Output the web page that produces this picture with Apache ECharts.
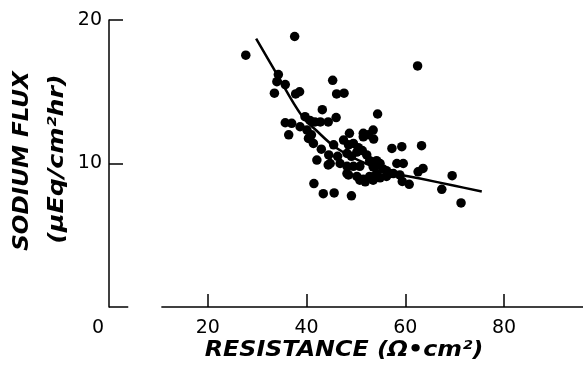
<!DOCTYPE html>
<html>
<head>
<meta charset="utf-8">
<script src="https://cdn.jsdelivr.net/npm/echarts@6/dist/echarts.min.js"></script>
<style>html,body{margin:0;padding:0;background:#fff;}#c{width:584px;height:371px;}</style>
</head>
<body>
<div id="c"></div>
<script>
// Measured points: resistance (ohm*cm^2) and sodium flux (uEq/cm^2 hr)
var resistance = [27.7,37.6,62.5,34.3,34.0,35.7,33.5,38.6,37.8,45.3,46.1,47.6,43.2,54.4,35.7,37.0,36.4,39.7,40.7,41.7,
  42.8,44.4,46.0,38.7,40.1,40.4,41.4,42.1,41.5,43.4,45.6,49.1,48.7,51.5,53.5,57.3,59.3,63.3,58.3,59.6,
  63.6,62.6,69.5,67.4,71.3,59.4,60.8,44.8,46.8,48.2,50.8,51.9,47.5,48.5,49.5,50.5,48.2,49.1,50.2,51.5,
  52.5,53.6,51.3,52.2,52.8,54.2,54.9,55.6,54.2,52.8,51.5,50.2,48.5,48.2,49.5,50.8,53.5,56.2,56.9,54.9,
  53.5,56.2,57.6,45.5,44.5,46.3,43.0,41.0,58.9,44.4];
var flux = [17.55,18.85,16.8,16.2,15.7,15.5,14.9,15.0,14.85,15.8,14.85,14.9,13.75,13.45,12.84,12.8,12.0,13.26,13.0,12.9,
  12.9,12.9,13.2,12.56,12.33,11.75,11.4,10.24,8.6,7.9,7.95,7.75,12.1,12.1,12.33,11.05,11.17,11.24,10.0,10.0,
  9.66,9.42,9.15,8.2,7.25,8.75,8.55,10.0,10.0,9.3,8.84,8.72,11.63,11.3,11.4,11.1,10.7,10.5,10.8,11.86,
  12.0,11.7,10.9,10.6,10.2,10.2,10.0,9.6,9.3,9.1,8.9,9.1,9.2,9.8,9.8,9.8,9.77,9.5,9.3,9.0,
  8.84,9.1,9.3,11.3,10.6,10.5,11.0,12.0,9.2,9.9];
// Fitted curve
var curveX = [29.8,33.7,39.1,42.0,46.0,52.0,58.0,63.0,70.0,75.5];
var curveY = [18.7,16.4,13.3,12.3,11.1,10.0,9.3,8.95,8.45,8.05];
var xTicks = [0,20,40,60,80];
var yTicks = [10,20];
var xTitle = 'RESISTANCE (Ω•cm²)';
var yTitle1 = 'SODIUM FLUX';
var yTitle2 = '(μEq/cm²hr)';

var chart = echarts.init(document.getElementById('c'), null, {renderer:'canvas'});
var font = 'DejaVu Sans';
var titleFont = 'italic bold 22px "DejaVu Sans"';
chart.setOption({
  animation: false,
  backgroundColor: '#fff',
  grid: {left: 109, top: 20, width: 474, height: 287, containLabel: false, outerBoundsMode: 'none'},
  xAxis: {
    type: 'value', min: 0, max: 96, interval: 20,
    axisLine: {show: false},
    axisTick: {show: true, inside: true, length: 13, lineStyle: {color: '#000', width: 1.5},
      customValues: xTicks.slice(1)},
    axisLabel: {color: '#000', fontFamily: font, fontSize: 19, margin: 12,
      customValues: xTicks,
      formatter: function (v) { return v === 0 ? '{z|0}' : String(v); },
      rich: {z: {fontFamily: font, fontSize: 19, color: '#000', padding: [0, 22, 0, 0]}}},
    splitLine: {show: false}
  },
  yAxis: {
    type: 'value', min: 0, max: 20, interval: 10,
    axisLine: {show: true, lineStyle: {color: '#000', width: 1.5}},
    axisTick: {show: true, inside: true, length: 14, lineStyle: {color: '#000', width: 1.5}, customValues: yTicks},
    axisLabel: {color: '#000', fontFamily: font, fontSize: 19, margin: 7, customValues: yTicks},
    splitLine: {show: false}
  },
  graphic: [
    {type: 'text', x: 344, y: 350, scaleX: 1.08, silent: true,
      style: {text: xTitle, font: titleFont, fill: '#000', textAlign: 'center', textVerticalAlign: 'middle'}},
    {type: 'text', x: 22, y: 161, rotation: Math.PI / 2, scaleX: 1.05, silent: true,
      style: {text: yTitle1, font: titleFont, fill: '#000', textAlign: 'center', textVerticalAlign: 'middle'}},
    {type: 'text', x: 57, y: 159, rotation: Math.PI / 2, scaleX: 1.15, silent: true,
      style: {text: yTitle2, font: titleFont, fill: '#000', textAlign: 'center', textVerticalAlign: 'middle'}}
  ],
  series: [
    {
      type: 'scatter', symbol: 'circle', symbolSize: 9.5,
      itemStyle: {color: '#000', opacity: 1},
      data: resistance.map(function (r, i) { return [r, flux[i]]; }),
      markLine: {
        silent: true, symbol: 'none', label: {show: false},
        lineStyle: {color: '#000', width: 1.5, type: 'solid'},
        data: [
          [{coord: [0, 0]}, {coord: [3.9, 0]}],
          [{coord: [10.6, 0]}, {coord: [96, 0]}]
        ]
      }
    },
    {
      type: 'line', smooth: 0.4, symbol: 'none',
      lineStyle: {color: '#000', width: 2.5},
      data: curveX.map(function (x, i) { return [x, curveY[i]]; })
    }
  ]
});
</script>
</body>
</html>
